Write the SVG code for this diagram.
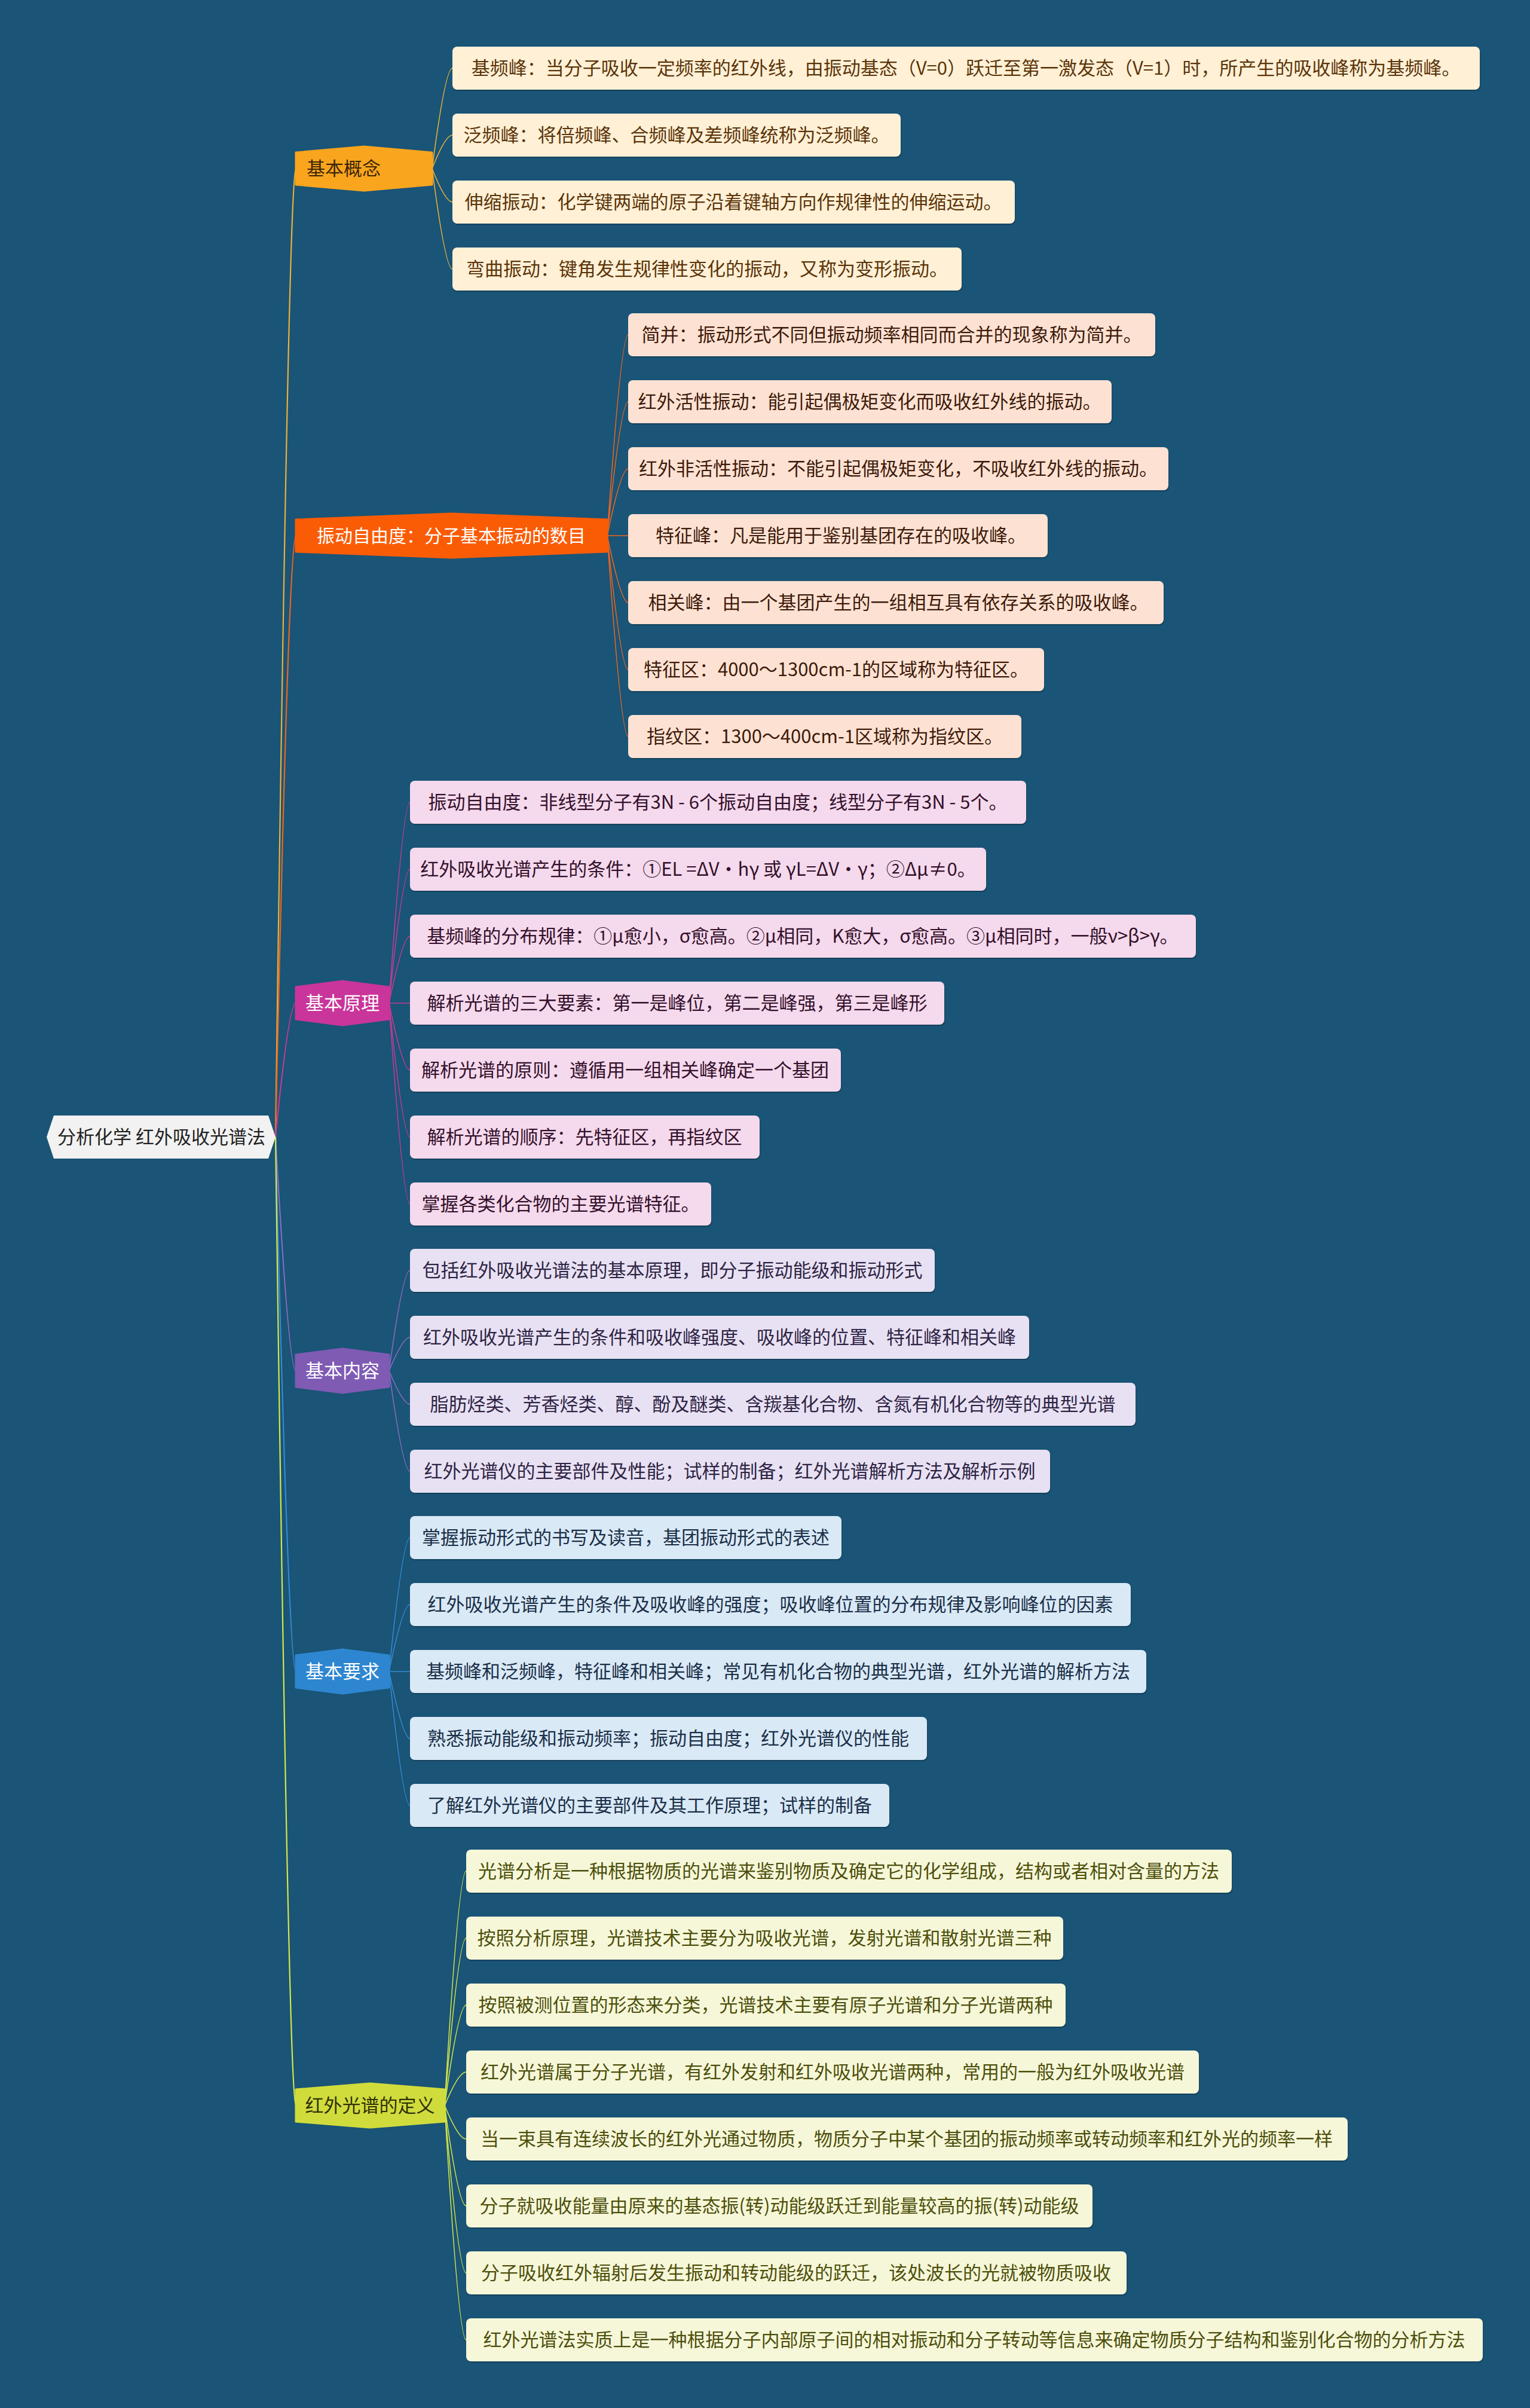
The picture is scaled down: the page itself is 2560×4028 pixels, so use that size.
<svg xmlns="http://www.w3.org/2000/svg" width="2560" height="4028" viewBox="0 0 2560 4028">
<style>
text{font-family:"Noto Sans CJK SC","Noto Sans",sans-serif;font-size:31px}
.lt{text-anchor:middle}
.sh{fill:#000;opacity:0.22}
.c{fill:none}
.c0{stroke-width:2.2}
.c1{stroke-width:1.6}
.g1{stroke:#e9b13c}.g2{stroke:#ee6620}.g3{stroke:#c43b96}.g4{stroke:#8a6cc0}.g5{stroke:#3489d2}.g6{stroke:#d5e64a}
.f1{fill:#fff0d6}.f2{fill:#fde2d3}.f3{fill:#f5d9ec}.f4{fill:#e8e1f3}.f5{fill:#d9e9f6}.f6{fill:#f6f7d9}
.t1{fill:#5b3409}.t2{fill:#3e1a0a}.t3{fill:#33102b}.t4{fill:#2e2444}.t5{fill:#1b2f47}.t6{fill:#4d4f0c}
.b{stroke-width:3;stroke-linejoin:round}
</style>
<rect width="2560" height="4028" fill="#1a5476"/>

<g id="connectors">
  <path class="c c0 g1" d="M461 1902 Q483 282 495 282"/>
  <path class="c c0 g2" d="M461 1902 Q483 896 495 896"/>
  <path class="c c0 g3" d="M461 1902 Q483 1678 495 1678"/>
  <path class="c c0 g4" d="M461 1902 Q483 2293 495 2293"/>
  <path class="c c0 g5" d="M461 1902 Q483 2796 495 2796"/>
  <path class="c c0 g6" d="M461 1902 Q483 3522 495 3522"/>
  <g class="c c1 g1">
    <path d="M723 282 Q745 114 757 114"/><path d="M723 282 Q745 226 757 226"/><path d="M723 282 Q745 338 757 338"/><path d="M723 282 Q745 450 757 450"/>
  </g>
  <g class="c c1 g2">
    <path d="M1016 896 Q1039 560 1051 560"/><path d="M1016 896 Q1039 672 1051 672"/><path d="M1016 896 Q1039 784 1051 784"/><path d="M1016 896 L1051 896"/><path d="M1016 896 Q1039 1008 1051 1008"/><path d="M1016 896 Q1039 1120 1051 1120"/><path d="M1016 896 Q1039 1232 1051 1232"/>
  </g>
  <g class="c c1 g3">
    <path d="M651 1678 Q674 1342 686 1342"/><path d="M651 1678 Q674 1454 686 1454"/><path d="M651 1678 Q674 1566 686 1566"/><path d="M651 1678 L686 1678"/><path d="M651 1678 Q674 1790 686 1790"/><path d="M651 1678 Q674 1902 686 1902"/><path d="M651 1678 Q674 2014 686 2014"/>
  </g>
  <g class="c c1 g4">
    <path d="M651 2293 Q674 2125 686 2125"/><path d="M651 2293 Q674 2237 686 2237"/><path d="M651 2293 Q674 2349 686 2349"/><path d="M651 2293 Q674 2461 686 2461"/>
  </g>
  <g class="c c1 g5">
    <path d="M651 2796 Q674 2572 686 2572"/><path d="M651 2796 Q674 2684 686 2684"/><path d="M651 2796 L686 2796"/><path d="M651 2796 Q674 2908 686 2908"/><path d="M651 2796 Q674 3020 686 3020"/>
  </g>
  <g class="c c1 g6">
    <path d="M744 3522 Q767 3130 780 3130"/><path d="M744 3522 Q767 3242 780 3242"/><path d="M744 3522 Q767 3354 780 3354"/><path d="M744 3522 Q767 3466 780 3466"/><path d="M744 3522 Q767 3578 780 3578"/><path d="M744 3522 Q767 3690 780 3690"/><path d="M744 3522 Q767 3802 780 3802"/><path d="M744 3522 Q767 3914 780 3914"/>
  </g>
</g>

<g id="root">
  <polygon points="78,1902 90,1866 449,1866 461,1902 449,1938 90,1938" fill="#f2f2f2"/>
  <text x="270" y="1913" class="lt" fill="#222">分析化学 红外吸收光谱法</text>
</g>

<g id="b1">
  <polygon class="b" points="495,255 609,245 723,255 723,309 609,319 495,309" fill="#f9a51e" stroke="#f9a51e"/>
  <text x="513" y="293" fill="#3b2606">基本概念</text>
</g>
<g id="b2">
  <polygon class="b" points="495,869 755,859 1016,869 1016,923 755,933 495,923" fill="#fa5c06" stroke="#fa5c06"/>
  <text x="755" y="907" class="lt" font-size="30" fill="#fff" style="font-size:30px">振动自由度：分子基本振动的数目</text>
</g>
<g id="b3">
  <polygon class="b" points="495,1651 573,1641 651,1651 651,1705 573,1715 495,1705" fill="#c9359a" stroke="#c9359a"/>
  <text x="573" y="1689" class="lt" fill="#fff">基本原理</text>
</g>
<g id="b4">
  <polygon class="b" points="495,2266 573,2256 651,2266 651,2320 573,2330 495,2320" fill="#7f5bb4" stroke="#7f5bb4"/>
  <text x="573" y="2304" class="lt" fill="#fff">基本内容</text>
</g>
<g id="b5">
  <polygon class="b" points="495,2769 573,2759 651,2769 651,2823 573,2833 495,2823" fill="#2e86d0" stroke="#2e86d0"/>
  <text x="573" y="2807" class="lt" fill="#fff">基本要求</text>
</g>
<g id="b6">
  <polygon class="b" points="495,3495 619,3485 744,3495 744,3549 619,3559 495,3549" fill="#d0dc3c" stroke="#d0dc3c"/>
  <text x="619" y="3533" class="lt" fill="#2f3008">红外光谱的定义</text>
</g>

<!-- group 1 leaves -->
<g id="n1-1"><rect class="sh" x="758" y="80" width="1719" height="72" rx="8"/><rect class="f1" x="757" y="78" width="1719" height="72" rx="8"/><text class="lt t1" x="1616" y="125">基频峰：当分子吸收一定频率的红外线，由振动基态（V=0）跃迁至第一激发态（V=1）时，所产生的吸收峰称为基频峰。</text></g>
<g id="n1-2"><rect class="sh" x="758" y="192" width="750" height="72" rx="8"/><rect class="f1" x="757" y="190" width="750" height="72" rx="8"/><text class="lt t1" x="1132" y="237">泛频峰：将倍频峰、合频峰及差频峰统称为泛频峰。</text></g>
<g id="n1-3"><rect class="sh" x="758" y="304" width="941" height="72" rx="8"/><rect class="f1" x="757" y="302" width="941" height="72" rx="8"/><text class="lt t1" x="1227" y="349">伸缩振动：化学键两端的原子沿着键轴方向作规律性的伸缩运动。</text></g>
<g id="n1-4"><rect class="sh" x="758" y="416" width="852" height="72" rx="8"/><rect class="f1" x="757" y="414" width="852" height="72" rx="8"/><text class="lt t1" x="1183" y="461">弯曲振动：键角发生规律性变化的振动，又称为变形振动。</text></g>

<!-- group 2 leaves -->
<g id="n2-1"><rect class="sh" x="1052" y="526" width="882" height="72" rx="8"/><rect class="f2" x="1051" y="524" width="882" height="72" rx="8"/><text class="lt t2" x="1492" y="571">简并：振动形式不同但振动频率相同而合并的现象称为简并。</text></g>
<g id="n2-2"><rect class="sh" x="1052" y="638" width="809" height="72" rx="8"/><rect class="f2" x="1051" y="636" width="809" height="72" rx="8"/><text class="lt t2" x="1455" y="683">红外活性振动：能引起偶极矩变化而吸收红外线的振动。</text></g>
<g id="n2-3"><rect class="sh" x="1052" y="750" width="904" height="72" rx="8"/><rect class="f2" x="1051" y="748" width="904" height="72" rx="8"/><text class="lt t2" x="1503" y="795">红外非活性振动：不能引起偶极矩变化，不吸收红外线的振动。</text></g>
<g id="n2-4"><rect class="sh" x="1052" y="862" width="702" height="72" rx="8"/><rect class="f2" x="1051" y="860" width="702" height="72" rx="8"/><text class="lt t2" x="1407" y="907">特征峰：凡是能用于鉴别基团存在的吸收峰。</text></g>
<g id="n2-5"><rect class="sh" x="1052" y="974" width="896" height="72" rx="8"/><rect class="f2" x="1051" y="972" width="896" height="72" rx="8"/><text class="lt t2" x="1503" y="1019">相关峰：由一个基团产生的一组相互具有依存关系的吸收峰。</text></g>
<g id="n2-6"><rect class="sh" x="1052" y="1086" width="696" height="72" rx="8"/><rect class="f2" x="1051" y="1084" width="696" height="72" rx="8"/><text class="lt t2" x="1399" y="1131">特征区：4000～1300cm-1的区域称为特征区。</text></g>
<g id="n2-7"><rect class="sh" x="1052" y="1198" width="658" height="72" rx="8"/><rect class="f2" x="1051" y="1196" width="658" height="72" rx="8"/><text class="lt t2" x="1380" y="1243">指纹区：1300～400cm-1区域称为指纹区。</text></g>

<!-- group 3 leaves -->
<g id="n3-1"><rect class="sh" x="687" y="1308" width="1031" height="72" rx="8"/><rect class="f3" x="686" y="1306" width="1031" height="72" rx="8"/><text class="lt t3" x="1201" y="1353">振动自由度：非线型分子有3N - 6个振动自由度；线型分子有3N - 5个。</text></g>
<g id="n3-2"><rect class="sh" x="687" y="1420" width="964" height="72" rx="8"/><rect class="f3" x="686" y="1418" width="964" height="72" rx="8"/><text class="lt t3" x="1168" y="1465">红外吸收光谱产生的条件：①EL =ΔV·hγ 或 γL=ΔV·γ；②Δμ≠0。</text></g>
<g id="n3-3"><rect class="sh" x="687" y="1532" width="1315" height="72" rx="8"/><rect class="f3" x="686" y="1530" width="1315" height="72" rx="8"/><text class="lt t3" x="1343" y="1577">基频峰的分布规律：①μ愈小，σ愈高。②μ相同，K愈大，σ愈高。③μ相同时，一般ν&gt;β&gt;γ。</text></g>
<g id="n3-4"><rect class="sh" x="687" y="1644" width="894" height="72" rx="8"/><rect class="f3" x="686" y="1642" width="894" height="72" rx="8"/><text class="lt t3" x="1133" y="1689">解析光谱的三大要素：第一是峰位，第二是峰强，第三是峰形</text></g>
<g id="n3-5"><rect class="sh" x="687" y="1756" width="721" height="72" rx="8"/><rect class="f3" x="686" y="1754" width="721" height="72" rx="8"/><text class="lt t3" x="1046" y="1801">解析光谱的原则：遵循用一组相关峰确定一个基团</text></g>
<g id="n3-6"><rect class="sh" x="687" y="1868" width="585" height="72" rx="8"/><rect class="f3" x="686" y="1866" width="585" height="72" rx="8"/><text class="lt t3" x="978" y="1913">解析光谱的顺序：先特征区，再指纹区</text></g>
<g id="n3-7"><rect class="sh" x="687" y="1980" width="504" height="72" rx="8"/><rect class="f3" x="686" y="1978" width="504" height="72" rx="8"/><text class="lt t3" x="938" y="2025">掌握各类化合物的主要光谱特征。</text></g>

<!-- group 4 leaves -->
<g id="n4-1"><rect class="sh" x="687" y="2091" width="878" height="72" rx="8"/><rect class="f4" x="686" y="2089" width="878" height="72" rx="8"/><text class="lt t4" x="1125" y="2136">包括红外吸收光谱法的基本原理，即分子振动能级和振动形式</text></g>
<g id="n4-2"><rect class="sh" x="687" y="2203" width="1036" height="72" rx="8"/><rect class="f4" x="686" y="2201" width="1036" height="72" rx="8"/><text class="lt t4" x="1204" y="2248">红外吸收光谱产生的条件和吸收峰强度、吸收峰的位置、特征峰和相关峰</text></g>
<g id="n4-3"><rect class="sh" x="687" y="2315" width="1214" height="72" rx="8"/><rect class="f4" x="686" y="2313" width="1214" height="72" rx="8"/><text class="lt t4" x="1293" y="2360">脂肪烃类、芳香烃类、醇、酚及醚类、含羰基化合物、含氮有机化合物等的典型光谱</text></g>
<g id="n4-4"><rect class="sh" x="687" y="2427" width="1071" height="72" rx="8"/><rect class="f4" x="686" y="2425" width="1071" height="72" rx="8"/><text class="lt t4" x="1221" y="2472">红外光谱仪的主要部件及性能；试样的制备；红外光谱解析方法及解析示例</text></g>

<!-- group 5 leaves -->
<g id="n5-1"><rect class="sh" x="687" y="2538" width="722" height="72" rx="8"/><rect class="f5" x="686" y="2536" width="722" height="72" rx="8"/><text class="lt t5" x="1047" y="2583">掌握振动形式的书写及读音，基团振动形式的表述</text></g>
<g id="n5-2"><rect class="sh" x="687" y="2650" width="1206" height="72" rx="8"/><rect class="f5" x="686" y="2648" width="1206" height="72" rx="8"/><text class="lt t5" x="1289" y="2695">红外吸收光谱产生的条件及吸收峰的强度；吸收峰位置的分布规律及影响峰位的因素</text></g>
<g id="n5-3"><rect class="sh" x="687" y="2762" width="1232" height="72" rx="8"/><rect class="f5" x="686" y="2760" width="1232" height="72" rx="8"/><text class="lt t5" x="1302" y="2807">基频峰和泛频峰，特征峰和相关峰；常见有机化合物的典型光谱，红外光谱的解析方法</text></g>
<g id="n5-4"><rect class="sh" x="687" y="2874" width="865" height="72" rx="8"/><rect class="f5" x="686" y="2872" width="865" height="72" rx="8"/><text class="lt t5" x="1118" y="2919">熟悉振动能级和振动频率；振动自由度；红外光谱仪的性能</text></g>
<g id="n5-5"><rect class="sh" x="687" y="2986" width="802" height="72" rx="8"/><rect class="f5" x="686" y="2984" width="802" height="72" rx="8"/><text class="lt t5" x="1087" y="3031">了解红外光谱仪的主要部件及其工作原理；试样的制备</text></g>

<!-- group 6 leaves -->
<g id="n6-1"><rect class="sh" x="781" y="3096" width="1281" height="72" rx="8"/><rect class="f6" x="780" y="3094" width="1281" height="72" rx="8"/><text class="lt t6" x="1420" y="3141">光谱分析是一种根据物质的光谱来鉴别物质及确定它的化学组成，结构或者相对含量的方法</text></g>
<g id="n6-2"><rect class="sh" x="781" y="3208" width="999" height="72" rx="8"/><rect class="f6" x="780" y="3206" width="999" height="72" rx="8"/><text class="lt t6" x="1279" y="3253">按照分析原理，光谱技术主要分为吸收光谱，发射光谱和散射光谱三种</text></g>
<g id="n6-3"><rect class="sh" x="781" y="3320" width="1003" height="72" rx="8"/><rect class="f6" x="780" y="3318" width="1003" height="72" rx="8"/><text class="lt t6" x="1281" y="3365">按照被测位置的形态来分类，光谱技术主要有原子光谱和分子光谱两种</text></g>
<g id="n6-4"><rect class="sh" x="781" y="3432" width="1226" height="72" rx="8"/><rect class="f6" x="780" y="3430" width="1226" height="72" rx="8"/><text class="lt t6" x="1393" y="3477">红外光谱属于分子光谱，有红外发射和红外吸收光谱两种，常用的一般为红外吸收光谱</text></g>
<g id="n6-5"><rect class="sh" x="781" y="3544" width="1475" height="72" rx="8"/><rect class="f6" x="780" y="3542" width="1475" height="72" rx="8"/><text class="lt t6" x="1517" y="3589">当一束具有连续波长的红外光通过物质，物质分子中某个基团的振动频率或转动频率和红外光的频率一样</text></g>
<g id="n6-6"><rect class="sh" x="781" y="3656" width="1048" height="72" rx="8"/><rect class="f6" x="780" y="3654" width="1048" height="72" rx="8"/><text class="lt t6" x="1304" y="3701">分子就吸收能量由原来的基态振(转)动能级跃迁到能量较高的振(转)动能级</text></g>
<g id="n6-7"><rect class="sh" x="781" y="3768" width="1105" height="72" rx="8"/><rect class="f6" x="780" y="3766" width="1105" height="72" rx="8"/><text class="lt t6" x="1332" y="3813">分子吸收红外辐射后发生振动和转动能级的跃迁，该处波长的光就被物质吸收</text></g>
<g id="n6-8"><rect class="sh" x="781" y="3880" width="1701" height="72" rx="8"/><rect class="f6" x="780" y="3878" width="1701" height="72" rx="8"/><text class="lt t6" x="1630" y="3925">红外光谱法实质上是一种根据分子内部原子间的相对振动和分子转动等信息来确定物质分子结构和鉴别化合物的分析方法</text></g>
</svg>
